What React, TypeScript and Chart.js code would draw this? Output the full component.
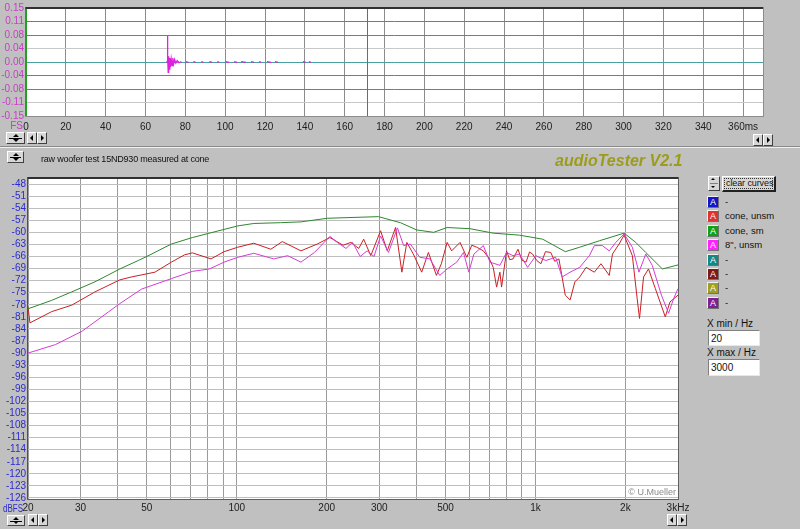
import React, { useEffect, useRef } from "react";
import { Chart, registerables } from "chart.js";

Chart.register(...registerables);

const FONT = "'Liberation Sans', Arial, Helvetica, sans-serif";

// ---------- impulse response (time domain) ----------
// null values break the trace into the short dashes seen in the reference
const impulseTimeMs = [70.4, 70.8, 71.0, 71.2, 71.4, 71.6, 71.9, 72.2, 72.5, 72.9, 73.3, 73.7, 74.1, 74.6, 75.2, 75.9, 76.8, 78.0, 79.0, 80.0, 81.6, 82.4, 84.0, 85.2, 86.0, 88.0, 89.0, 89.6, 92.0, 93.5, 94.5, 96.0, 97.0, 98.0, 100.0, 102.0, 103.0, 104.5, 106.0, 107.0, 108.0, 110.5, 111.5, 113.0, 114.5, 115.5, 117.0, 118.0, 119.0, 121.0, 123.0, 124.0, 125.0, 126.5, 128.0, 139.0, 140.5, 141.0, 142.0, 143.0];
const impulseAmp = [0, 0, 0.072, 0.012, -0.029, 0.016, -0.02, 0.011, -0.014, 0.008, -0.01, 0.011, -0.005, 0.007, -0.003, 0.004, -0.002, 0.001, null, 0.001, -0.001, null, 0.001, -0.001, null, 0.001, -0.001, null, 0.001, -0.001, null, 0.001, -0.001, null, 0.001, -0.001, null, 0.001, -0.001, null, 0.001, -0.001, null, 0.001, -0.001, null, 0.001, -0.001, null, 0.001, -0.001, null, 0.001, -0.001, null, 0.001, -0.001, null, 0.001, -0.001];
const timeTicksMs = [0, 20, 40, 60, 80, 100, 120, 140, 160, 180, 200, 220, 240, 260, 280, 300, 320, 340, 360];
const timeTickLabels = ["0", "20", "40", "60", "80", "100", "120", "140", "160", "180", "200", "220", "240", "260", "280", "300", "320", "340", "360ms"];
const timeCursorsMs = [0, 171];
const ampTicks = [0.15, 0.1125, 0.075, 0.0375, 0, -0.0375, -0.075, -0.1125, -0.15];
const ampTickLabels = ["0.15", "0.11", "0.08", "0.04", "0.00", "-0.04", "-0.08", "-0.11", "-0.15"];

// ---------- frequency response ----------
const coneUnsmHz = [20, 20.3, 24, 28, 33.5, 40.6, 44.3, 53.2, 60.4, 66.8, 71, 82, 90.7, 100.8, 114, 130, 142, 164, 186, 205, 227, 241, 256, 266, 281, 303, 319, 340, 357, 371, 390, 416, 438, 466, 484, 506, 524, 559, 589, 612, 636, 669, 700, 722, 741, 760, 770, 800, 820, 841, 874, 900, 930, 955, 978, 1010, 1043, 1080, 1125, 1160, 1198, 1258, 1306, 1355, 1406, 1478, 1574, 1657, 1766, 1810, 1905, 1980, 2110, 2190, 2230, 2300, 2390, 2520, 2720, 2820, 3000];
const coneUnsmDb = [-78.5, -82.5, -79.7, -78.1, -74.8, -71.8, -71.1, -69.9, -67.4, -65.6, -65.1, -66.6, -64.8, -63.7, -62.7, -64.2, -62.3, -64.6, -62.9, -61.3, -63.2, -62.5, -64.0, -61.7, -65.8, -59.6, -64.6, -58.8, -69.9, -62.5, -65.4, -69.9, -65.0, -70.7, -67.8, -62.5, -64.6, -62.5, -66.2, -63.2, -63.7, -64.6, -66.5, -68.7, -73.6, -69.9, -73.6, -64.6, -66.8, -66.6, -64.2, -66.9, -67.4, -64.9, -65.4, -67.0, -67.8, -64.8, -65.0, -67.2, -66.6, -75.6, -76.8, -72.3, -71.1, -68.7, -69.9, -67.8, -70.7, -65.4, -62.9, -60.7, -65.8, -76.5, -81.4, -71.1, -69.1, -74.0, -81.0, -77.3, -75.6];

const coneSmHz = [20, 24, 28, 33.5, 40.6, 46.8, 51.2, 60.4, 71, 81, 100.8, 114, 140, 164, 201, 298, 326, 353, 400, 456, 506, 604, 722, 884, 1057, 1258, 1406, 1636, 1980, 2166, 2340, 2660, 3000];
const coneSmDb = [-79.0, -76.9, -74.8, -72.3, -69.1, -67.0, -65.6, -62.9, -61.3, -60.2, -58.4, -57.8, -57.6, -57.4, -56.5, -56.1, -56.9, -57.6, -59.4, -60.0, -58.8, -59.1, -60.2, -60.7, -61.7, -64.8, -63.7, -62.1, -60.2, -62.5, -65.0, -69.1, -68.1];

const eightUnsmHz = [20, 24.7, 30.3, 35.3, 40.6, 48, 60.4, 71, 81, 90.7, 100.8, 114, 133, 148, 164, 182, 205, 217, 232, 244, 259, 273, 288, 303, 322, 345, 362, 381, 410, 443, 478, 506, 545, 574, 598, 622, 669, 704, 760, 800, 841, 884, 941, 1003, 1083, 1168, 1228, 1306, 1406, 1515, 1574, 1675, 1766, 1857, 1980, 2110, 2220, 2340, 2460, 2640, 2790, 2900, 3000];
const eightUnsmDb = [-90.0, -87.9, -84.6, -81.0, -77.7, -74.1, -71.5, -69.7, -69.1, -67.4, -66.2, -65.2, -66.6, -65.8, -67.4, -65.0, -61.0, -62.5, -64.0, -62.5, -66.0, -64.6, -66.0, -60.9, -65.0, -58.9, -63.3, -62.9, -66.2, -66.6, -70.7, -69.1, -67.4, -65.0, -69.9, -65.4, -63.3, -67.4, -68.2, -65.0, -65.8, -65.4, -68.7, -65.8, -67.0, -66.2, -71.1, -69.9, -68.7, -65.8, -63.3, -63.3, -64.6, -62.5, -60.4, -63.7, -69.9, -65.4, -68.2, -75.6, -80.1, -76.5, -74.0];

const freqTicksHz = [20, 30, 40, 50, 60, 70, 80, 90, 100, 200, 300, 400, 500, 600, 700, 800, 900, 1000, 2000, 3000];
const freqTickLabels = ["20", "30", "", "50", "", "", "", "", "100", "200", "300", "", "500", "", "", "", "", "1k", "2k", "3kHz"];
const dbTicks = [-48, -51, -54, -57, -60, -63, -66, -69, -72, -75, -78, -81, -84, -87, -90, -93, -96, -99, -102, -105, -108, -111, -114, -117, -120, -123, -126];

const legendLabels = ["-", "cone, unsm", "cone, sm", "8\", unsm", "-", "-", "-", "-"];
const legendColors = ["#1414c8", "#e03030", "#14a014", "#ff22ff", "#118888", "#801818", "#a0a020", "#802090"];

const titleText = "raw woofer test 15ND930 measured at cone";
const brandText = "audioTester V2.1";
const xMinHz = "20";
const xMaxHz = "3000";

const pts = (xs: number[], ys: (number | null)[]) => xs.map((x, i) => ({ x, y: ys[i] }));

function framePlugin(opts: { bottomColor: string; cursors?: number[]; unitLabel: string; unitColor: string; unitRight: number; unitScale: number; copyright?: string }) {
  return {
    id: "frame",
    beforeDraw(chart: any) {
      const { ctx, chartArea: a } = chart;
      ctx.save();
      ctx.fillStyle = "#ffffff";
      ctx.fillRect(a.left, a.top, a.right - a.left, a.bottom - a.top);
      ctx.restore();
    },
    afterDraw(chart: any) {
      const { ctx, chartArea: a } = chart;
      const L = Math.round(a.left), T = Math.round(a.top), R = Math.round(a.right), B = Math.round(a.bottom);
      ctx.save();
      ctx.fillStyle = "#303030";
      ctx.fillRect(L - 1, T - 1, R - L + 2, 2);
      ctx.fillStyle = "#505050";
      ctx.fillRect(L - 1, T - 1, 1, B - T + 2);
      ctx.fillStyle = opts.bottomColor;
      ctx.fillRect(R, T - 1, 1, B - T + 2);
      ctx.fillRect(L - 1, B, R - L + 2, 1);
      if (opts.cursors) {
        ctx.fillStyle = "#22a022";
        for (const t of opts.cursors) {
          const x = Math.round(chart.scales.x.getPixelForValue(t));
          ctx.fillRect(x - (t === 0 ? 1 : 0), T + 1, t === 0 ? 2 : 1, B - T - 1);
        }
      }
      if (opts.copyright) {
        ctx.font = `9px ${FONT}`;
        ctx.textAlign = "right";
        ctx.textBaseline = "middle";
        ctx.fillStyle = "#8a8a8a";
        ctx.fillText(opts.copyright, R - 2, B - 6);
      }
      ctx.font = `10px ${FONT}`;
      ctx.textAlign = "right";
      ctx.textBaseline = "middle";
      ctx.fillStyle = opts.unitColor;
      ctx.translate(opts.unitRight, B + 10);
      ctx.scale(opts.unitScale, 1);
      ctx.fillText(opts.unitLabel, 0, 0);
      ctx.restore();
    },
  };
}

const btn: React.CSSProperties = {
  position: "absolute",
  boxSizing: "border-box",
  background: "#d6d6d6",
  borderTop: "1px solid #ffffff",
  borderLeft: "1px solid #ffffff",
  borderRight: "1px solid #404040",
  borderBottom: "1px solid #404040",
};

function Tri({ dir, x, y, s = 3 }: { dir: "up" | "down" | "left" | "right"; x: number; y: number; s?: number }) {
  const st: React.CSSProperties = { position: "absolute", left: x, top: y, width: 0, height: 0 };
  if (dir === "up") Object.assign(st, { borderLeft: `${s}px solid transparent`, borderRight: `${s}px solid transparent`, borderBottom: `${s}px solid #000` });
  if (dir === "down") Object.assign(st, { borderLeft: `${s}px solid transparent`, borderRight: `${s}px solid transparent`, borderTop: `${s}px solid #000` });
  if (dir === "left") Object.assign(st, { borderTop: `${s}px solid transparent`, borderBottom: `${s}px solid transparent`, borderRight: `${s}px solid #000` });
  if (dir === "right") Object.assign(st, { borderTop: `${s}px solid transparent`, borderBottom: `${s}px solid transparent`, borderLeft: `${s}px solid #000` });
  return <div style={st} />;
}

function Spinner({ left, top, w, h }: { left: number; top: number; w: number; h: number }) {
  return (
    <div style={{ ...btn, left, top, width: w, height: h }}>
      <Tri dir="up" x={Math.round(w / 2) - 4} y={1} />
      <div style={{ position: "absolute", left: 2, right: 2, top: Math.round(h / 2) - 1, height: 1, background: "#000" }} />
      <Tri dir="down" x={Math.round(w / 2) - 4} y={h - 6} />
    </div>
  );
}

function Arrows({ left, top }: { left: number; top: number }) {
  return (
    <>
      <div style={{ ...btn, left, top, width: 10, height: 12 }}>
        <Tri dir="left" x={2} y={2} />
      </div>
      <div style={{ ...btn, left: left + 10, top, width: 10, height: 12 }}>
        <Tri dir="right" x={3} y={2} />
      </div>
    </>
  );
}

export default function App() {
  const topRef = useRef<HTMLCanvasElement>(null);
  const botRef = useRef<HTMLCanvasElement>(null);

  useEffect(() => {
    const hGridTop = ["#404040", "#7a7a7a", "#7a7a7a", "#c8c8c8", "#48a0a0", "#7a7a7a", "#7a7a7a", "#c8c8c8", "#404040"];
    const top = new Chart(topRef.current as HTMLCanvasElement, {
      type: "line",
      data: {
        datasets: [
          {
            data: pts(impulseTimeMs, impulseAmp),
            borderColor: "#e020e0",
            borderWidth: 1.3,
            pointRadius: 0,
            tension: 0,
            spanGaps: false,
          },
        ],
      },
      options: {
        animation: false,
        responsive: false,
        events: [],
        layout: { padding: { top: 5, right: 7, left: 0, bottom: 0 } },
        plugins: { legend: { display: false }, tooltip: { enabled: false } },
        scales: {
          x: {
            type: "linear",
            min: 0,
            max: 370,
            afterBuildTicks: (s: any) => { s.ticks = timeTicksMs.map((v) => ({ value: v })); },
            afterFit: (s: any) => { s.height = 19; },
            grid: { color: "#8c8c8c", drawTicks: false },
            border: { display: false },
            ticks: { padding: 5, color: "#202020", autoSkip: false, maxRotation: 0, font: { size: 10, family: FONT }, callback: (_v: any, i: number) => timeTickLabels[i] },
          },
          y: {
            type: "linear",
            min: -0.15,
            max: 0.15,
            afterBuildTicks: (s: any) => { s.ticks = ampTicks.map((v) => ({ value: v })); },
            afterFit: (s: any) => { s.width = 26; },
            grid: { color: (c: any) => hGridTop[c.index] || "#8c8c8c", drawTicks: false },
            border: { display: false },
            ticks: { padding: 2, autoSkip: false, color: "#c83cc8", font: { size: 10, family: FONT }, callback: (_v: any, i: number) => ampTickLabels[i] },
          },
        },
      } as any,
      plugins: [framePlugin({ bottomColor: "#8c8c8c", cursors: timeCursorsMs, unitLabel: "FS", unitColor: "#c83cc8", unitRight: 23, unitScale: 1 })],
    });

    const bot = new Chart(botRef.current as HTMLCanvasElement, {
      type: "line",
      data: {
        datasets: [
          { label: "cone, unsm", data: pts(coneUnsmHz, coneUnsmDb), borderColor: "#cc1f24", borderWidth: 1, pointRadius: 0, tension: 0, order: 2 },
          { label: "cone, sm", data: pts(coneSmHz, coneSmDb), borderColor: "#2f872f", borderWidth: 1, pointRadius: 0, tension: 0, order: 1 },
          { label: "8\", unsm", data: pts(eightUnsmHz, eightUnsmDb), borderColor: "#d63cd6", borderWidth: 1, pointRadius: 0, tension: 0, order: 0 },
        ],
      },
      options: {
        animation: false,
        responsive: false,
        events: [],
        layout: { padding: { top: 5, right: 22, left: 0, bottom: 0 } },
        plugins: { legend: { display: false }, tooltip: { enabled: false } },
        scales: {
          x: {
            type: "logarithmic",
            min: 20,
            max: 3000,
            afterBuildTicks: (s: any) => { s.ticks = freqTicksHz.map((v) => ({ value: v })); },
            afterFit: (s: any) => { s.height = 21; },
            grid: { color: "#9a9a9a", drawTicks: false },
            border: { display: false },
            ticks: { padding: 3, color: "#202020", autoSkip: false, maxRotation: 0, font: { size: 10, family: FONT }, callback: (_v: any, i: number) => freqTickLabels[i] },
          },
          y: {
            type: "linear",
            min: -126.25,
            max: -46.5,
            afterBuildTicks: (s: any) => { s.ticks = dbTicks.map((v) => ({ value: v })); },
            afterFit: (s: any) => { s.width = 28; },
            grid: { color: "#bebebe", drawTicks: false },
            border: { display: false },
            ticks: { padding: 2, autoSkip: false, color: "#2a2ad0", font: { size: 10, family: FONT }, callback: (_v: any, i: number) => String(dbTicks[i]) },
          },
        },
      } as any,
      plugins: [framePlugin({ bottomColor: "#606060", unitLabel: "dBFS", unitColor: "#2a2ad0", unitRight: 23, unitScale: 0.8, copyright: "© U.Mueller" })],
    });

    return () => {
      top.destroy();
      bot.destroy();
    };
  }, []);

  const txt: React.CSSProperties = { position: "absolute", fontFamily: FONT, color: "#111", whiteSpace: "nowrap", lineHeight: 1 };

  return (
    <div style={{ position: "absolute", left: 0, top: 0, width: 800, height: 529, background: "#c0c0c0", overflow: "hidden", fontFamily: FONT }}>
      <canvas ref={topRef} width={770} height={135} style={{ position: "absolute", left: 0, top: 0 }} />
      <canvas ref={botRef} width={700} height={350} style={{ position: "absolute", left: 0, top: 170 }} />

      {/* top chart controls */}
      <Spinner left={6} top={132} w={19} h={12} />
      <Arrows left={27} top={132} />
      <Arrows left={753} top={134} />

      {/* separator */}
      <div style={{ position: "absolute", left: 0, top: 146, width: 800, height: 1, background: "#8a8a8a" }} />
      <div style={{ position: "absolute", left: 0, top: 147, width: 800, height: 1, background: "#f0f0f0" }} />

      {/* title row */}
      <Spinner left={7} top={151} w={17} h={12} />
      <div style={{ ...txt, left: 41, top: 155, fontSize: 9, letterSpacing: -0.2 }}>{titleText}</div>
      <div style={{ ...txt, left: 555, top: 153, fontSize: 16, fontWeight: "bold", fontStyle: "italic", color: "#9c9c1c" }}>{brandText}</div>

      {/* right panel */}
      <div style={{ ...btn, left: 708, top: 176, width: 12, height: 15 }}>
        <Tri dir="up" x={2} y={1} s={2} />
        <div style={{ position: "absolute", left: 1, right: 1, top: 6, height: 1, background: "#808080" }} />
        <Tri dir="down" x={2} y={9} s={2} />
      </div>
      <div style={{ ...btn, left: 722, top: 176, width: 54, height: 16, borderRight: "2px solid #202020", borderBottom: "2px solid #202020" }}>
        <div style={{ position: "absolute", left: 1, top: 1, right: 1, bottom: 1, border: "1px dotted #303030" }} />
        <div style={{ ...txt, left: 3, top: 2, fontSize: 9, letterSpacing: -0.1 }}>clear curves</div>
      </div>

      {legendLabels.map((lab, i) => (
        <React.Fragment key={i}>
          <div
            style={{
              position: "absolute",
              left: 707,
              top: 196 + i * 14.4,
              width: 12,
              height: 12,
              boxSizing: "border-box",
              background: legendColors[i],
              borderTop: "1px solid #f0f0f0",
              borderLeft: "1px solid #f0f0f0",
              borderRight: "1px solid #707070",
              borderBottom: "1px solid #707070",
              color: "#fff",
              fontSize: 9,
              fontFamily: FONT,
              textAlign: "center",
              lineHeight: "10px",
            }}
          >
            A
          </div>
          <div style={{ ...txt, left: 725, top: 197 + i * 14.4, fontSize: 9.5 }}>{lab}</div>
        </React.Fragment>
      ))}

      <div style={{ ...txt, left: 707, top: 319, fontSize: 10 }}>X min / Hz</div>
      <div style={{ position: "absolute", left: 708, top: 330, width: 52, height: 16, boxSizing: "border-box", background: "#fff", borderTop: "1px solid #808080", borderLeft: "1px solid #808080", borderRight: "1px solid #e8e8e8", borderBottom: "1px solid #e8e8e8" }}>
        <div style={{ ...txt, left: 2, top: 3, fontSize: 10 }}>{xMinHz}</div>
      </div>
      <div style={{ ...txt, left: 707, top: 348, fontSize: 10 }}>X max / Hz</div>
      <div style={{ position: "absolute", left: 708, top: 359, width: 52, height: 17, boxSizing: "border-box", background: "#fff", borderTop: "1px solid #808080", borderLeft: "1px solid #808080", borderRight: "1px solid #e8e8e8", borderBottom: "1px solid #e8e8e8" }}>
        <div style={{ ...txt, left: 2, top: 3, fontSize: 10 }}>{xMaxHz}</div>
      </div>

      {/* bottom controls */}
      <Spinner left={7} top={515} w={18} h={11} />
      <Arrows left={28} top={514} />
      <Arrows left={667} top={514} />
    </div>
  );
}
